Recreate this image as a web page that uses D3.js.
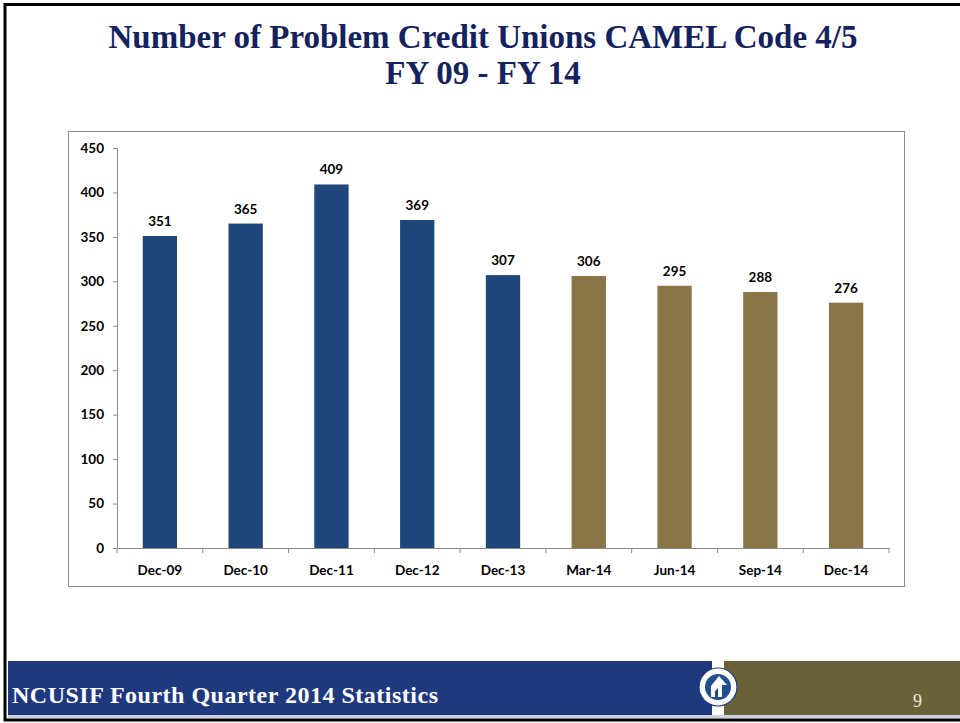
<!DOCTYPE html>
<html>
<head>
<meta charset="utf-8">
<script src="https://cdn.jsdelivr.net/npm/d3@7"></script>
<style>
body{margin:0;background:#fff;}
svg{display:block;}
</style>
</head>
<body>
<svg id="slide" width="960" height="723"></svg>
<script>
// chart data
const categories = ["Dec-09","Dec-10","Dec-11","Dec-12","Dec-13","Mar-14","Jun-14","Sep-14","Dec-14"];
const values = [351,365,409,369,307,306,295,288,276];
const annual = [true,true,true,true,true,false,false,false,false];
const yTicks = [0,50,100,150,200,250,300,350,400,450];
const titleLines = ["Number of Problem Credit Unions CAMEL Code 4/5","FY 09 - FY 14"];
const footerText = "NCUSIF Fourth Quarter 2014 Statistics";
const pageNo = "9";

const svg = d3.select("#slide");

// title
svg.append("g").selectAll("text").data(titleLines).join("text")
  .attr("x",483).attr("y",(d,i)=>48+i*36)
  .attr("text-anchor","middle")
  .attr("font-family","'Liberation Serif', serif").attr("font-weight","bold")
  .attr("font-size",33).attr("fill","#14225f")
  .text(d=>d);

// chart box
svg.append("rect").attr("x",68.5).attr("y",131.5).attr("width",836).attr("height",455)
  .attr("fill","#fff").attr("stroke","#8c8c8c").attr("stroke-width",1);

const plotL=117, plotR=889, plotT=148, plotB=548;
const x = d3.scaleBand().domain(categories).range([plotL,plotR]).paddingInner(0.6).paddingOuter(0.3);
const xb = d3.scaleBand().domain(categories).range([plotL,plotR]).padding(0);
const y = d3.scaleLinear().domain([0,450]).range([plotB,plotT]);

const font = "Lato, 'Open Sans', sans-serif";

// y axis
const yAxis = svg.append("g").attr("transform",`translate(${plotL},0)`)
  .call(d3.axisLeft(y).tickValues(yTicks).tickSize(4).tickPadding(9).tickFormat(d3.format("d")));
yAxis.select(".domain").attr("stroke","#8c8c8c");
yAxis.selectAll(".tick line").attr("stroke","#8c8c8c");
yAxis.selectAll("text").attr("font-family",font).attr("font-weight","bold").attr("font-size",13.5).attr("fill","#000");

// x axis
const xAxis = svg.append("g").attr("transform",`translate(0,${plotB})`)
  .call(d3.axisBottom(xb).tickSize(0).tickPadding(17));
xAxis.select(".domain").attr("stroke","#8c8c8c");
xAxis.selectAll("text").attr("font-family",font).attr("font-weight","bold").attr("font-size",13.5).attr("fill","#000");
// category boundary ticks
xAxis.append("g").selectAll("line").data(d3.range(categories.length+1)).join("line")
  .attr("x1",i=>plotL+i*xb.step()).attr("x2",i=>plotL+i*xb.step())
  .attr("y1",0).attr("y2",5).attr("stroke","#8c8c8c");

// bars
svg.append("g").selectAll("rect").data(categories).join("rect")
  .attr("x",d=>x(d)).attr("width",x.bandwidth())
  .attr("y",(d,i)=>y(values[i])).attr("height",(d,i)=>plotB-y(values[i]))
  .attr("fill",(d,i)=>annual[i]?"#1f477b":"#8a7546");

// value labels
svg.append("g").selectAll("text").data(categories).join("text")
  .attr("x",d=>x(d)+x.bandwidth()/2).attr("y",(d,i)=>y(values[i])-10)
  .attr("text-anchor","middle")
  .attr("font-family",font).attr("font-weight","bold").attr("font-size",13.5).attr("fill","#000")
  .text((d,i)=>values[i]);

// footer bands
svg.append("rect").attr("x",8).attr("y",661).attr("width",704).attr("height",54).attr("fill","#1f397f");
svg.append("rect").attr("x",724).attr("y",661).attr("width",236).attr("height",54).attr("fill","#6b6139");
svg.append("rect").attr("x",8).attr("y",715).attr("width",952).attr("height",3).attr("fill","#c9d0de");

// logo
const logo = svg.append("g").attr("transform","translate(718,687)");
logo.append("circle").attr("r",19).attr("fill","#fff").attr("stroke","#1f397f").attr("stroke-width",1.2);
logo.append("circle").attr("r",13).attr("fill","#1f4f8f");
logo.append("path").attr("d","M-7,10 L-7,-1 L1,-11 L9,-2 L4,-2 L4,10 L0,10 L0,1 L-3,4 L-3,10 Z").attr("fill","#fff");

svg.append("text").attr("x",12).attr("y",703)
  .attr("font-family","'Liberation Serif', serif").attr("font-weight","bold")
  .attr("font-size",24).attr("letter-spacing",0.5).attr("fill","#fff").text(footerText);
svg.append("text").attr("x",913).attr("y",707)
  .attr("font-family","'Liberation Serif', serif")
  .attr("font-size",18).attr("fill","#eeeadf").text(pageNo);

// slide frame
svg.append("rect").attr("x",5).attr("y",4.5).attr("width",960).attr("height",715.5)
  .attr("fill","none").attr("stroke","#000").attr("stroke-width",3);
</script>
</body>
</html>
